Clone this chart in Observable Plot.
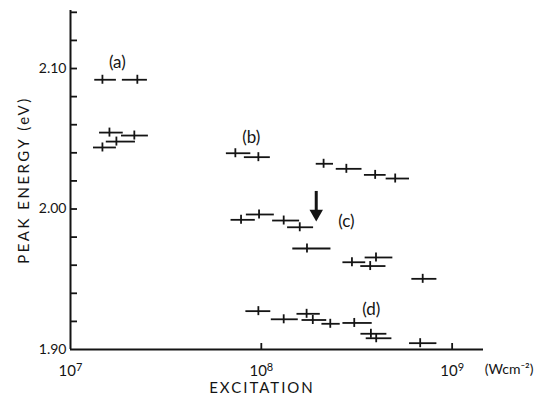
<!DOCTYPE html>
<html>
<head>
<meta charset="utf-8">
<script src="https://cdn.jsdelivr.net/npm/d3@7"></script>
<script src="https://cdn.jsdelivr.net/npm/@observablehq/plot@0.6"></script>
<style>
  html, body { margin: 0; padding: 0; background: #fff; }
  #chart svg { display: block; }
</style>
</head>
<body>
<div id="chart"></div>
<script>
// Excitation intensity (W cm^-2): centre, lower and upper end of horizontal bar; peak energy (eV)
const seriesA_x   = [1.47e7, 2.24e7, 1.60e7, 2.16e7, 1.74e7, 1.47e7];
const seriesA_lo  = [1.34e7, 1.87e7, 1.42e7, 1.85e7, 1.54e7, 1.32e7];
const seriesA_hi  = [1.74e7, 2.53e7, 1.89e7, 2.56e7, 2.19e7, 1.74e7];
const seriesA_y   = [2.092, 2.092, 2.0544, 2.0523, 2.048, 2.0438];

const seriesB_x   = [7.31e7, 9.65e7, 2.12e8, 2.79e8, 3.95e8, 5.03e8];
const seriesB_lo  = [6.56e7, 8.15e7, 1.94e8, 2.47e8, 3.47e8, 4.51e8];
const seriesB_hi  = [8.81e7, 1.115e8, 2.39e8, 3.37e8, 4.51e8, 5.98e8];
const seriesB_y   = [2.0397, 2.0369, 2.0322, 2.0286, 2.0243, 2.0217];

const seriesC_x   = [7.83e7, 9.73e7, 1.31e8, 1.59e8, 1.735e8, 2.985e8, 3.99e8, 3.72e8, 7.01e8];
const seriesC_lo  = [6.94e7, 8.35e7, 1.146e8, 1.373e8, 1.462e8, 2.677e8, 3.50e8, 3.32e8, 6.15e8];
const seriesC_hi  = [9.30e7, 1.17e8, 1.587e8, 1.879e8, 2.317e8, 3.525e8, 4.89e8, 4.50e8, 8.32e8];
const seriesC_y   = [1.9923, 1.9961, 1.9918, 1.987, 1.9719, 1.9621, 1.9655, 1.9594, 1.9503];

const seriesD_x   = [9.65e7, 1.31e8, 1.727e8, 1.861e8, 2.298e8, 3.069e8, 3.752e8, 4.00e8, 6.80e8];
const seriesD_lo  = [8.30e7, 1.128e8, 1.538e8, 1.634e8, 2.078e8, 2.677e8, 3.327e8, 3.546e8, 5.98e8];
const seriesD_hi  = [1.121e8, 1.562e8, 2.037e8, 2.202e8, 2.591e8, 3.812e8, 4.55e8, 4.834e8, 8.32e8];
const seriesD_y   = [1.9273, 1.9215, 1.9254, 1.921, 1.9183, 1.9189, 1.9112, 1.908, 1.9045];

const energyError = 0.0032; // half-height of the vertical stroke of each cross (eV)

const seriesLabels = ["(a)", "(b)", "(c)", "(d)"];
const labelX = [1.76e7, 8.86e7, 2.79e8, 3.77e8];
const labelY = [2.1043, 2.0509, 1.9911, 1.9285];

const arrowX = [1.94e8];
const arrowTop = [2.0125];
const arrowTip = [1.9911];

const xTicks = [1e7, 1e8, 1e9];
const xInnerTicks = [1e8, 1e9];
const yTickLabels = [1.90, 2.00, 2.10];
const yInnerTicks = [1.92, 1.94, 1.96, 1.98, 2.00, 2.02, 2.04, 2.06, 2.08, 2.10, 2.12, 2.14];
const xDomain = [1e7, 1.46e9];
const yDomain = [1.90, 2.1413];

function build(xs, lo, hi, ys, name) {
  return xs.map((x, i) => ({series: name, x, lo: lo[i], hi: hi[i], y: ys[i]}));
}
const points = [
  ...build(seriesA_x, seriesA_lo, seriesA_hi, seriesA_y, "a"),
  ...build(seriesB_x, seriesB_lo, seriesB_hi, seriesB_y, "b"),
  ...build(seriesC_x, seriesC_lo, seriesC_hi, seriesC_y, "c"),
  ...build(seriesD_x, seriesD_lo, seriesD_hi, seriesD_y, "d")
];
const labels = seriesLabels.map((t, i) => ({t, x: labelX[i], y: labelY[i]}));
const arrows = arrowX.map((x, i) => ({x, top: arrowTop[i], tip: arrowTip[i]}));

const ink = "#141414";
const W = 538, H = 403, mL = 70, mR = 55, mT = 10, mB = 54;
const frameW = W - mL - mR, frameH = H - mT - mB;

const chart = Plot.plot({
  width: W, height: H,
  marginLeft: mL, marginRight: mR, marginTop: mT, marginBottom: mB,
  style: {fontFamily: "Lato, 'DejaVu Sans', sans-serif", fontSize: "14px", color: ink, background: "#fff"},
  x: {type: "log", domain: xDomain},
  y: {domain: yDomain},
  marks: [
    // axes lines
    Plot.ruleX([xDomain[0]], {stroke: ink, strokeWidth: 2}),
    Plot.ruleY([yDomain[0]], {stroke: ink, strokeWidth: 2}),
    // inward ticks
    Plot.tickY(yInnerTicks, {y: d => d, stroke: ink, strokeWidth: 1.8, insetRight: frameW - 7}),
    Plot.tickX(xInnerTicks, {x: d => d, stroke: ink, strokeWidth: 1.8, insetTop: frameH - 6}),
    // tick labels
    Plot.axisY({ticks: yTickLabels, tickSize: 0, tickPadding: 4, label: null,
                tickFormat: d => d.toFixed(2), fontSize: 14}),
    Plot.axisX({ticks: xTicks, tickSize: 0, tickPadding: 16, label: null,
                tickFormat: d => "10|" + Math.round(Math.log10(d)), fontSize: 15}),
    // axis titles
    Plot.text(["EXCITATION"], {frameAnchor: "bottom", dx: -15, dy: 43, fontSize: 15, fill: ink}),
    Plot.text(["(Wcm\u207B\u00B2)"], {frameAnchor: "bottom-right", dx: 50, dy: 24, textAnchor: "end",
                                     fontSize: 14, fill: ink}),
    Plot.text(["PEAK ENERGY (eV)"], {frameAnchor: "left", dx: -46, rotate: -90, textAnchor: "middle",
                                     fontSize: 15, fill: ink}),
    // data crosses
    Plot.ruleY(points, {y: "y", x1: "lo", x2: "hi", stroke: ink, strokeWidth: 1.8}),
    Plot.ruleX(points, {x: "x", y1: d => d.y - energyError, y2: d => d.y + energyError,
                        stroke: ink, strokeWidth: 1.8}),
    // series labels
    Plot.text(labels, {x: "x", y: "y", text: "t", fontSize: 17, fill: ink}),
    // arrow
    Plot.ruleX(arrows, {x: "x", y1: "top", y2: "tip", stroke: ink, strokeWidth: 3, insetBottom: 7}),
    Plot.dot(arrows, {x: "x", y: "tip", symbol: "triangle", rotate: 180, r: 5, fill: ink,
                      stroke: null, dy: -7.8})
  ]
});
document.getElementById("chart").appendChild(chart);

const svg = d3.select(chart);
// letter spacing for the axis titles
svg.selectAll("text").filter(function() { return this.textContent === "EXCITATION"; })
  .style("letter-spacing", "2px");
svg.selectAll("text").filter(function() { return this.textContent === "PEAK ENERGY (eV)"; })
  .style("letter-spacing", "2.5px");
// powers of ten with real superscript tspans
svg.selectAll("text").filter(function() { return this.textContent.startsWith("10|"); }).each(function() {
  const [base, exp] = this.textContent.split("|");
  const t = d3.select(this);
  t.text(null);
  t.append("tspan").text(base);
  t.append("tspan").attr("dy", "-0.5em").attr("font-size", "11px").text(exp);
});
</script>
</body>
</html>
